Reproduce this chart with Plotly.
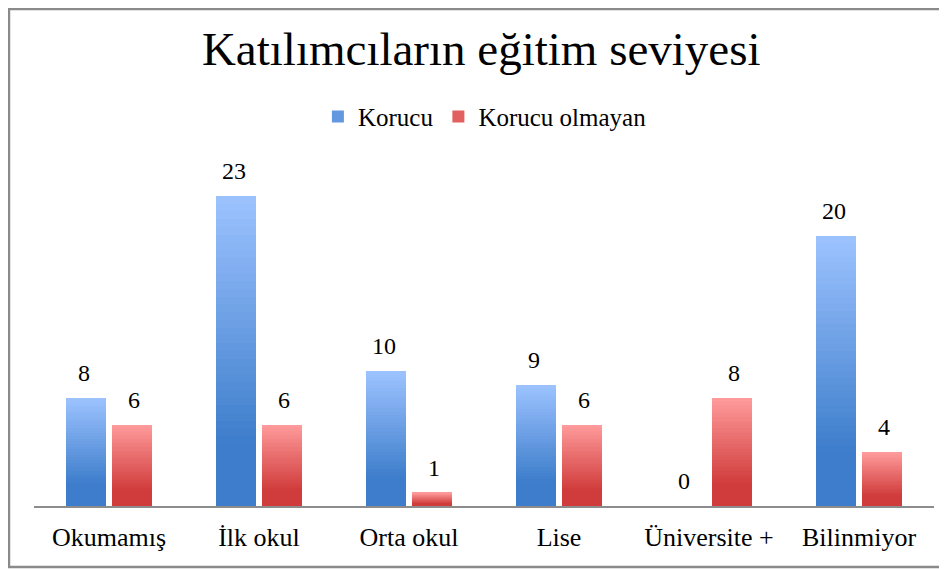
import plotly.graph_objects as go

categories = ['Okumamış', 'İlk okul', 'Orta okul', 'Lise', 'Üniversite +', 'Bilinmiyor']
korucu = [8, 23, 10, 9, 0, 20]
korucu_olmayan = [6, 6, 1, 6, 8, 4]

FONT = '"Liberation Serif", "Times New Roman", Times, serif'
N_SLICES = 40  # each bar is split into thin slices to fake the Excel gradient


def mix(c1, c2, t):
    return '#%02x%02x%02x' % tuple(round(a + (b - a) * t) for a, b in zip(c1, c2))


def gradient_bars(fig, values, name, group, dark, light):
    # slices stacked inside one offsetgroup, dark at the bottom, light at the top
    for i in range(N_SLICES):
        f = (i + 0.5) / N_SLICES
        t = min(max((f - 0.2) / 0.8, 0), 1)
        fig.add_trace(go.Bar(
            x=categories, y=[v / N_SLICES for v in values],
            name=name, legendgroup=group, offsetgroup=group,
            showlegend=(i == N_SLICES // 2),
            marker=dict(color=mix(dark, light, t), line=dict(width=0)),
            hoverinfo='skip'))


fig = go.Figure()
gradient_bars(fig, korucu, 'Korucu', 'k', (61, 125, 203), (157, 195, 255))
gradient_bars(fig, korucu_olmayan, 'Korucu olmayan', 'n', (208, 59, 59), (255, 155, 155))

# value labels above the bars
for i, cat in enumerate(categories):
    for vals, shift in ((korucu, -25), (korucu_olmayan, 25)):
        fig.add_annotation(x=cat, y=vals[i], text=str(vals[i]), showarrow=False,
                           xshift=shift, yshift=25, yanchor='middle',
                           font=dict(family=FONT, size=24, color='black'))

# outer frame of the chart
fig.add_shape(type='rect', xref='paper', yref='paper',
              x0=-0.0278, x1=1.03, y0=-0.181, y1=1.475,
              line=dict(color='#8a8a8a', width=2.5))

fig.update_layout(
    width=939, height=561,
    margin=dict(l=26, r=13, t=161, b=63),
    paper_bgcolor='white', plot_bgcolor='white',
    barmode='stack', bargap=0.396, bargroupgap=0.111,
    title=dict(text='Katılımcıların eğitim seviyesi', x=0.504, xanchor='center',
               y=0.927, yanchor='middle',
               font=dict(family=FONT, size=47, color='black')),
    legend=dict(orientation='h', x=0.501, xanchor='center', y=1.155, yanchor='middle',
                font=dict(family=FONT, size=25, color='black'),
                itemwidth=30, traceorder='normal'),
    font=dict(family=FONT, color='black'),
)
fig.update_xaxes(showline=True, linecolor='#8c8c8c', linewidth=1.5,
                 ticks='', ticklabelstandoff=7,
                 tickfont=dict(family=FONT, size=26, color='black'))
fig.update_yaxes(range=[0, 25], visible=False, showgrid=False)

fig.write_html('out.html')
